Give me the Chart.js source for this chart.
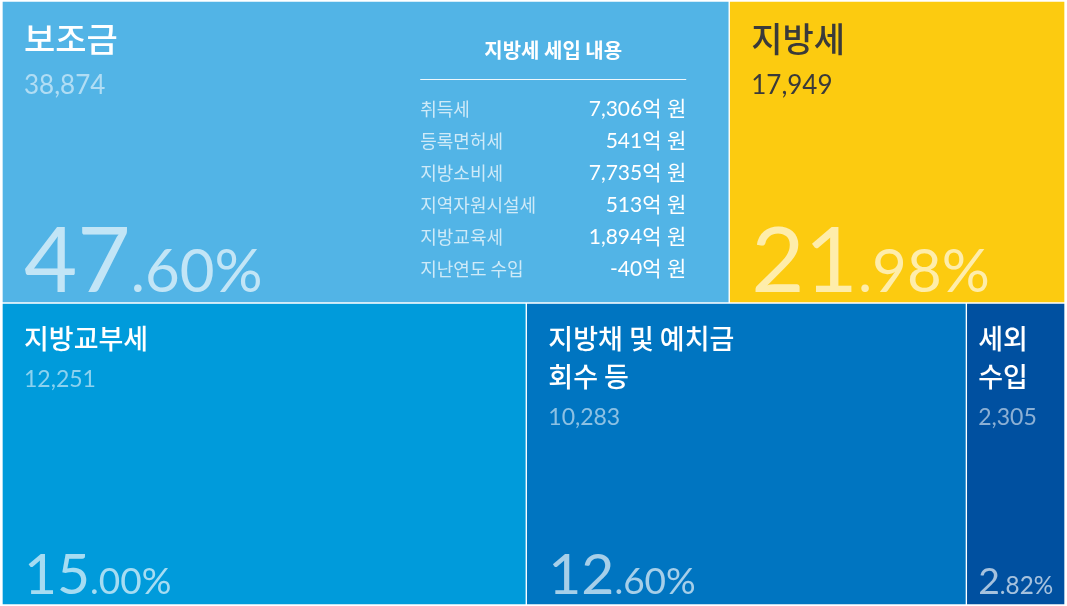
<!DOCTYPE html>
<html lang="ko">
<head>
<meta charset="utf-8">
<script src="https://cdn.jsdelivr.net/npm/chart.js@4.4.1/dist/chart.umd.min.js"></script>
<style>
  html, body { margin: 0; padding: 0; background: #ffffff; }
  #wrap { width: 1067px; height: 606px; position: relative; }
</style>
</head>
<body>
<div id="wrap"><canvas id="chart"></canvas></div>
<script>
// ---- data ----
const categories = ['보조금', '지방세', '지방교부세', ['지방채 및 예치금', '회수 등'], '세외수입'];
const values = [38874, 17949, 12251, 10283, 2305];
const percentLabels = ['47.60%', '21.98%', '15.00%', '12.60%', '2.82%'];
const rowOfCategory = [0, 0, 1, 1, 1];
const rowLabels = ['상단', '하단'];

const tableTitle = '지방세 세입 내용';
const taxItems = ['취득세', '등록면허세', '지방소비세', '지역자원시설세', '지방교육세', '지난연도 수입'];
const taxAmounts = [7306, 541, 7735, 513, 1894, -40];
const tableHostIndex = 0;

// ---- styles ----
const cellColors = ['#52B4E6', '#FCCB10', '#009BDB', '#0075C1', '#0050A0'];
const darkText = '#3a3a3a';
const textStyles = [
  { nameSize: 34, nameTop: 51, lineGap: 40, valSize: 26, valGap: 42, bigSize: 92, smallSize: 60, pad: 22, bottomGap: 11 },
  { nameSize: 27, nameTop: 46, lineGap: 38, valSize: 23, valGap: 38, bigSize: 57, smallSize: 37, pad: 22, bottomGap: 11 }
];
const KR = '"Noto Sans CJK KR", "Noto Sans", sans-serif';
const NUM = 'Lato, "Noto Sans CJK KR", sans-serif';

// ---- build datasets: each row is a stacked bar normalised to its own total ----
const rowTotals = rowLabels.map((_, r) =>
  values.reduce((s, v, i) => s + (rowOfCategory[i] === r ? v : 0), 0));

const datasets = values.map((v, i) => ({
  label: Array.isArray(categories[i]) ? categories[i].join(' ') : categories[i],
  data: rowLabels.map((_, r) => (rowOfCategory[i] === r ? v / rowTotals[r] * 100 : null)),
  backgroundColor: cellColors[i],
  borderColor: '#ffffff',
  borderWidth: 1,
  borderSkipped: false,
  barPercentage: 1,
  categoryPercentage: 1,
  stack: 'tree'
}));

// split a line that does not fit into balanced chunks
function wrapLines(ctx, lines, maxW) {
  const out = [];
  lines.forEach(line => {
    const wLine = ctx.measureText(line).width;
    if (wLine <= maxW) { out.push(line); return; }
    const chars = Array.from(line);
    const n = Math.ceil(wLine / maxW);
    const size = Math.ceil(chars.length / n);
    for (let k = 0; k < chars.length; k += size) {
      out.push(chars.slice(k, k + size).join('').trim());
    }
  });
  return out;
}

const treemapText = {
  id: 'treemapText',
  afterDatasetsDraw(chart) {
    const ctx = chart.ctx;
    chart.data.datasets.forEach((ds, i) => {
      const el = chart.getDatasetMeta(i).data[rowOfCategory[i]];
      if (!el) return;
      const p = el.getProps(['x', 'y', 'base', 'height'], true);
      const left = Math.min(p.x, p.base), right = Math.max(p.x, p.base);
      const top = p.y - p.height / 2, bottom = p.y + p.height / 2;
      const st = textStyles[rowOfCategory[i]];
      const w = right - left;
      const pad = Math.min(st.pad, w * 0.12);
      const avail = w - pad * 2;
      const isDark = i === 1;
      const x0 = left + pad;

      ctx.save();
      ctx.textAlign = 'left';
      ctx.textBaseline = 'alphabetic';

      // name
      ctx.font = `500 ${st.nameSize}px ${KR}`;
      ctx.fillStyle = isDark ? darkText : '#ffffff';
      const rawLines = Array.isArray(categories[i]) ? categories[i] : [categories[i]];
      const lines = wrapLines(ctx, rawLines, avail);
      let y = top + st.nameTop;
      lines.forEach((ln, k) => ctx.fillText(ln, x0, y + k * st.lineGap));
      y += (lines.length - 1) * st.lineGap + st.valGap;

      // value
      ctx.font = `400 ${st.valSize}px ${NUM}`;
      ctx.fillStyle = isDark ? darkText : 'rgba(255,255,255,0.55)';
      ctx.fillText(values[i].toLocaleString('en-US'), x0, y);

      // percentage
      const pl = percentLabels[i];
      const dot = pl.indexOf('.');
      const intPart = pl.slice(0, dot), restPart = pl.slice(dot);
      let big = st.bigSize, small = st.smallSize;
      ctx.font = `400 ${big}px ${NUM}`;
      let wBig = ctx.measureText(intPart).width;
      ctx.font = `400 ${small}px ${NUM}`;
      const wSmall = ctx.measureText(restPart).width;
      const scale = Math.min(1, avail / (wBig + wSmall));
      big *= scale; small *= scale;
      const by = bottom - st.bottomGap;
      ctx.fillStyle = 'rgba(255,255,255,0.65)';
      ctx.font = `400 ${big}px ${NUM}`;
      wBig = ctx.measureText(intPart).width;
      ctx.fillText(intPart, x0, by);
      ctx.font = `400 ${small}px ${NUM}`;
      ctx.fillText(restPart, x0 + wBig, by);

      // breakdown table inside host cell
      if (i === tableHostIndex) {
        const tRight = right - 43;
        const tLeft = tRight - 266;
        ctx.fillStyle = '#ffffff';
        ctx.font = `700 20px ${KR}`;
        ctx.textAlign = 'center';
        ctx.fillText(tableTitle, (tLeft + tRight) / 2, top + 57);
        ctx.strokeStyle = 'rgba(255,255,255,0.9)';
        ctx.lineWidth = 1;
        ctx.beginPath();
        ctx.moveTo(tLeft, Math.round(top + 78) + 0.5);
        ctx.lineTo(tRight, Math.round(top + 78) + 0.5);
        ctx.stroke();
        taxItems.forEach((name, k) => {
          const ry = top + 115 + k * 32;
          ctx.textAlign = 'left';
          ctx.font = `400 18px ${KR}`;
          ctx.fillStyle = 'rgba(255,255,255,0.72)';
          ctx.fillText(name, tLeft, ry);
          ctx.textAlign = 'right';
          ctx.font = `400 21px ${NUM}`;
          ctx.fillStyle = '#ffffff';
          ctx.fillText(taxAmounts[k].toLocaleString('en-US') + '억 원', tRight, ry);
        });
      }
      ctx.restore();
    });
  }
};

new Chart(document.getElementById('chart'), {
  type: 'bar',
  data: { labels: rowLabels, datasets },
  options: {
    indexAxis: 'y',
    responsive: true,
    maintainAspectRatio: false,
    animation: false,
    layout: { padding: { left: 2, right: 2, top: 1, bottom: 1 } },
    scales: {
      x: { type: 'linear', min: 0, max: 100, stacked: true, display: false },
      y: { type: 'category', stacked: true, display: false }
    },
    plugins: { legend: { display: false }, tooltip: { enabled: false } }
  },
  plugins: [treemapText]
});
</script>
</body>
</html>
